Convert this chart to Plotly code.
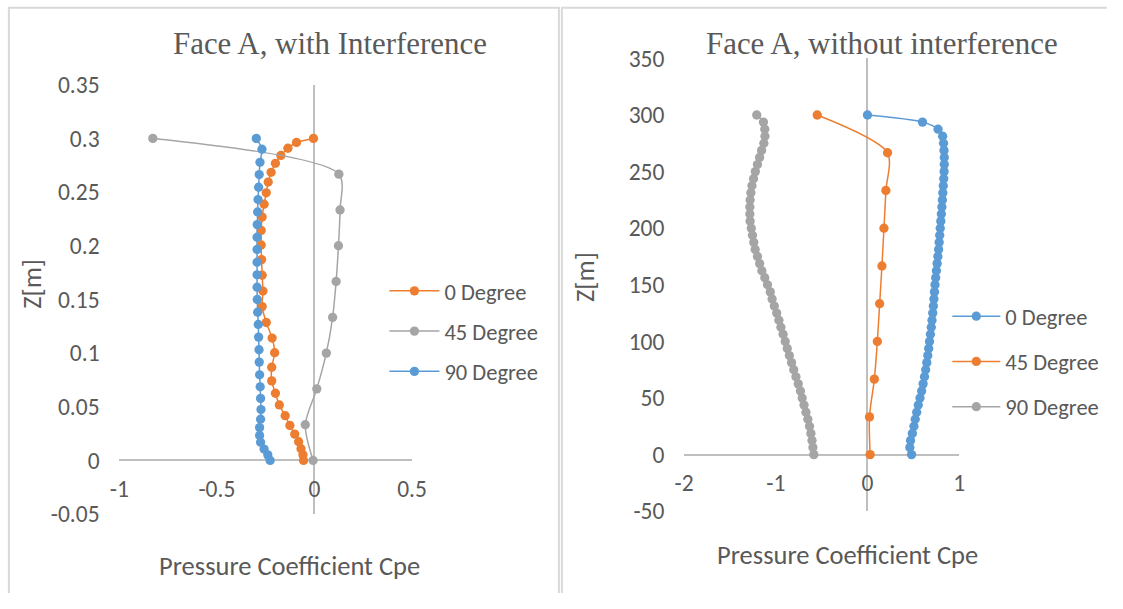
import plotly.graph_objects as go

# Reference geometry is 1123 x 609; the canvas is kept 16px smaller so that it fits
# the page together with the browser's default body margin, and layout is proportional.
REF_W, REF_H = 1123, 609
W, H = 1107, 593
S = (W / REF_W + H / REF_H) / 2  # font / pixel scale

# ---------------- Data: left chart (Face A, with Interference) ----------------
L_z_0deg = [0.300, 0.2962, 0.2908, 0.2841, 0.2768, 0.2684, 0.2593, 0.2493, 0.2387, 0.2267,
            0.2143, 0.2007, 0.1871, 0.1725, 0.1578, 0.1433, 0.1285, 0.1140, 0.1004, 0.0868,
            0.0741, 0.0626, 0.0517, 0.0417, 0.0326, 0.0245, 0.0175, 0.0109, 0.0052, 0.0]
L_cpe_0deg = [-0.005, -0.092, -0.136, -0.172, -0.200, -0.222, -0.237, -0.247, -0.258, -0.268,
              -0.273, -0.273, -0.271, -0.268, -0.264, -0.268, -0.247, -0.217, -0.204, -0.219,
              -0.219, -0.200, -0.180, -0.150, -0.126, -0.101, -0.081, -0.069, -0.059, -0.056]

L_z_45deg = [0.300, 0.2667, 0.2333, 0.2000, 0.1667, 0.1333, 0.1000, 0.0667, 0.0333, 0.0]
L_cpe_45deg = [-0.828, 0.125, 0.131, 0.123, 0.111, 0.093, 0.061, 0.012, -0.047, -0.007]

L_z_90deg = [0.300, 0.2899, 0.2777, 0.2663, 0.2545, 0.2430, 0.2315, 0.2197, 0.2079, 0.1965,
             0.1847, 0.1729, 0.1614, 0.1499, 0.1381, 0.1267, 0.1149, 0.1031, 0.0916, 0.0798,
             0.0686, 0.0578, 0.0474, 0.0384, 0.0306, 0.0233, 0.0170, 0.0106, 0.0052, 0.0]
L_cpe_90deg = [-0.298, -0.269, -0.279, -0.283, -0.286, -0.289, -0.291, -0.293, -0.294, -0.294,
               -0.294, -0.294, -0.294, -0.293, -0.291, -0.288, -0.286, -0.284, -0.283, -0.281,
               -0.278, -0.276, -0.274, -0.276, -0.281, -0.281, -0.276, -0.258, -0.239, -0.227]

# ---------------- Data: right chart (Face A, without interference) ----------------
R_z_dense = [300, 293.75, 287.5, 281.25, 275, 268.75, 262.5, 256.25, 250, 243.75,
             237.5, 231.25, 225, 218.75, 212.5, 206.25, 200, 193.75, 187.5, 181.25,
             175, 168.75, 162.5, 156.25, 150, 143.75, 137.5, 131.25, 125, 118.75,
             112.5, 106.25, 100, 93.75, 87.5, 81.25, 75, 68.75, 62.5, 56.25,
             50, 43.75, 37.5, 31.25, 25, 18.75, 12.5, 6.25, 0]
R_cpe_0deg = [0.00, 0.60, 0.77, 0.82, 0.830, 0.835, 0.838, 0.838, 0.836, 0.832,
              0.827, 0.822, 0.817, 0.812, 0.806, 0.800, 0.794, 0.788, 0.782, 0.776,
              0.768, 0.760, 0.752, 0.744, 0.737, 0.731, 0.725, 0.719, 0.712, 0.704,
              0.696, 0.687, 0.677, 0.668, 0.658, 0.647, 0.635, 0.622, 0.607, 0.591,
              0.573, 0.554, 0.537, 0.521, 0.507, 0.490, 0.470, 0.462, 0.481]
R_cpe_90deg = [-1.208, -1.135, -1.120, -1.118, -1.130, -1.155, -1.177, -1.200, -1.223, -1.243,
               -1.260, -1.272, -1.280, -1.283, -1.283, -1.280, -1.267, -1.254, -1.240, -1.225,
               -1.200, -1.176, -1.152, -1.120, -1.090, -1.060, -1.040, -1.016, -0.990, -0.966,
               -0.944, -0.920, -0.897, -0.875, -0.852, -0.828, -0.804, -0.780, -0.755, -0.731,
               -0.712, -0.692, -0.671, -0.650, -0.632, -0.617, -0.605, -0.595, -0.585]
R_z_45deg = [300, 266.67, 233.33, 200, 166.67, 133.33, 100, 66.67, 33.33, 0]
R_cpe_45deg = [-0.548, 0.219, 0.201, 0.180, 0.158, 0.133, 0.108, 0.075, 0.022, 0.029]

# ---------------- Axis ticks ----------------
L_xticks = [-1, -0.5, 0, 0.5]
L_xticktext = ["-1", "-0.5", "0", "0.5"]
L_yticks = [-0.05, 0, 0.05, 0.1, 0.15, 0.2, 0.25, 0.3, 0.35]
L_yticktext = ["-0.05", "0", "0.05", "0.1", "0.15", "0.2", "0.25", "0.3", "0.35"]
R_xticks = [-2, -1, 0, 1]
R_xticktext = ["-2", "-1", "0", "1"]
R_yticks = [-50, 0, 50, 100, 150, 200, 250, 300, 350]
R_yticktext = ["-50", "0", "50", "100", "150", "200", "250", "300", "350"]

ORANGE = "#ED7D31"
GREY = "#A5A5A5"
BLUE = "#5B9BD5"
TXT = "#595959"
AXC = "#BFBFBF"
SANS = "Carlito, Calibri, Lato, sans-serif"
SERIF = "Liberation Serif, Times New Roman, serif"


def px(x):
    return x / REF_W


def py(y):
    return 1 - y / REF_H


def fs(v):
    return round(v * S, 1)


fig = go.Figure()


def add(x, y, name, color, xa, ya, legend, group):
    fig.add_trace(go.Scatter(
        x=x, y=y, name=name, mode="lines+markers",
        line=dict(color=color, width=1.5, shape="spline", smoothing=0.8),
        marker=dict(color=color, size=fs(9.5), line=dict(width=0)),
        xaxis=xa, yaxis=ya, legend=legend, legendgroup=group,
    ))


add(L_cpe_0deg, L_z_0deg, "0 Degree", ORANGE, "x", "y", "legend", "l0")
add(L_cpe_45deg, L_z_45deg, "45 Degree", GREY, "x", "y", "legend", "l45")
add(L_cpe_90deg, L_z_90deg, "90 Degree", BLUE, "x", "y", "legend", "l90")

add(R_cpe_0deg, R_z_dense, "0 Degree", BLUE, "x2", "y2", "legend2", "r0")
add(R_cpe_45deg, R_z_45deg, "45 Degree", ORANGE, "x2", "y2", "legend2", "r45")
add(R_cpe_90deg, R_z_dense, "90 Degree", GREY, "x2", "y2", "legend2", "r90")

# domains (pixel geometry of the reference)
L_xdom = [px(121), px(418)]
L_ydom = [py(528), py(87)]
R_xdom = [px(694), px(973)]
R_ydom = [py(525), py(60)]
L_yr = [-0.05, 0.35]
R_yr = [-50, 350]
L_xpos = L_ydom[0] + (0 - L_yr[0]) / (L_yr[1] - L_yr[0]) * (L_ydom[1] - L_ydom[0])
R_xpos = R_ydom[0] + (0 - R_yr[0]) / (R_yr[1] - R_yr[0]) * (R_ydom[1] - R_ydom[0])

tickfont = dict(family=SANS, size=fs(24), color=TXT)

common_x = dict(showgrid=False, zeroline=True, zerolinecolor=AXC, zerolinewidth=2,
                showline=False, ticks="outside", ticklen=7, tickcolor="rgba(0,0,0,0)",
                tickfont=tickfont, anchor="free", fixedrange=True)
common_y = dict(showgrid=False, zeroline=True, zerolinecolor=AXC, zerolinewidth=2,
                showline=False, ticks="outside", ticklen=14, tickcolor="rgba(0,0,0,0)",
                tickfont=tickfont, fixedrange=True)

legfont = dict(family=SANS, size=fs(23), color=TXT)

fig.update_layout(
    width=W, height=H, margin=dict(l=0, r=0, t=0, b=0, autoexpand=False),
    paper_bgcolor="white", plot_bgcolor="white",
    showlegend=True,
    xaxis=dict(domain=L_xdom, range=[-1, 0.5], tickvals=L_xticks, ticktext=L_xticktext,
               position=L_xpos, **common_x),
    yaxis=dict(domain=L_ydom, range=L_yr, tickvals=L_yticks, ticktext=L_yticktext,
               anchor="x", **common_y),
    xaxis2=dict(domain=R_xdom, range=[-2, 1], tickvals=R_xticks, ticktext=R_xticktext,
                position=R_xpos, **common_x),
    yaxis2=dict(domain=R_ydom, range=R_yr, tickvals=R_yticks, ticktext=R_yticktext,
                anchor="x2", **common_y),
    legend=dict(x=px(390), y=py(277), xanchor="left", yanchor="top",
                font=legfont, tracegroupgap=8, itemwidth=50,
                bgcolor="rgba(0,0,0,0)"),
    legend2=dict(x=px(961), y=py(303), xanchor="left", yanchor="top",
                 font=legfont, tracegroupgap=13, itemwidth=48,
                 bgcolor="rgba(0,0,0,0)"),
)

annotations = [
    dict(text="Face A, with Interference", x=px(335), y=py(45), font=dict(family=SERIF, size=fs(31.5), color=TXT)),
    dict(text="Face A, without interference", x=px(895), y=py(45), font=dict(family=SERIF, size=fs(31.5), color=TXT)),
    dict(text="Pressure Coefficient Cpe", x=px(294), y=py(581), font=dict(family=SANS, size=fs(27), color=TXT)),
    dict(text="Pressure Coefficient Cpe", x=px(860), y=py(570), font=dict(family=SANS, size=fs(27), color=TXT)),
    dict(text="Z[m]", x=px(33), y=py(292), textangle=-90, font=dict(family=SANS, size=fs(27), color=TXT)),
    dict(text="Z[m]", x=px(593), y=py(285), textangle=-90, font=dict(family=SANS, size=fs(27), color=TXT)),
]
for a in annotations:
    a.update(xref="paper", yref="paper", showarrow=False, xanchor="center", yanchor="middle")
fig.update_layout(annotations=annotations)

BORDER = "#D9D9D9"
fig.add_shape(type="rect", xref="paper", yref="paper", x0=px(9), y0=py(8), x1=px(567), y1=py(640),
              line=dict(color=BORDER, width=2), fillcolor="rgba(0,0,0,0)", layer="below")
fig.add_shape(type="rect", xref="paper", yref="paper", x0=px(570), y0=py(8), x1=px(1140), y1=py(640),
              line=dict(color=BORDER, width=2), fillcolor="rgba(0,0,0,0)", layer="below")

fig.write_html("out.html")
